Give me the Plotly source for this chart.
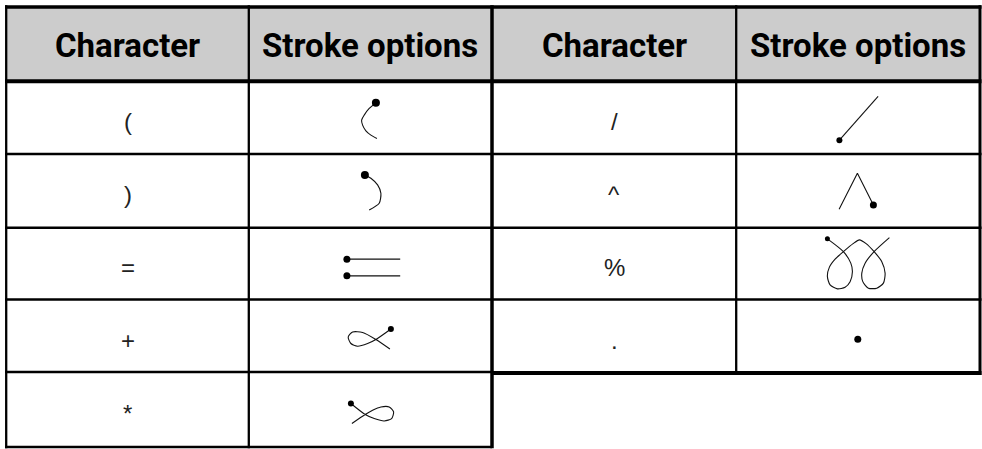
import plotly.graph_objects as go

# ---------------- data ----------------
headers = ["Character", "Stroke options", "Character", "Stroke options"]
characters_left = ["(", ")", "=", "+", "*"]
characters_right = ["/", "^", "%", "."]

# stroke paths (glyph-local offsets from the cell centre); first point carries the dot
stroke_lparen = [(5.5, -14.8), (-1.2, -9.2), (-6.2, -2.5), (-8.8, 2.5), (-7.8, 7.5), (-4.5, 13.2), (0.5, 17.5), (6.5, 20.8)]
stroke_rparen = [(-5.5, -16), (0.5, -12.7), (7.2, -6), (10.5, 2.3), (8.8, 12.3), (-1.2, 19)]
stroke_equal_a = [(-23.5, -4.5), (29.8, -4.5)]
stroke_equal_b = [(-23.5, 12.2), (29.8, 12.2)]
stroke_plus = [(20.5, -7), (5.5, 3.5), (-2.8, 7.5), (-12.8, 10.2), (-19.5, 7.5), (-22.2, 1), (-17.8, -4),
               (-7.8, -3.5), (5.5, 3.5), (19.5, 13)]
stroke_star = [(-19.5, -6.2), (-5.2, 4.8), (3.8, 8.8), (13.8, 11.2), (21.2, 8.8), (23.2, 2.2), (18.8, -2.8),
               (10.5, -2.8), (2.2, 0.5), (-5.2, 4.8), (-18.5, 13.8)]
stroke_slash = [(-18.7, 22.5), (20, -21.2)]
stroke_caret = [(15.3, 14), (-0.7, -17.7), (-19, 18.3)]
stroke_percent = [(-30.7, -24.8), (-14.7, -12), (-7.3, -0.5), (-5.7, 8), (-8, 18), (-13, 23.5), (-20.7, 25.2),
                  (-28, 21.2), (-30.7, 13), (-28.7, 3.5), (-23, -4.5), (-14.7, -12), (-5, -20), (1.3, -23.8),
                  (8, -20), (16, -12), (23.7, -2), (27, 9.5), (25.3, 19.5), (18.7, 24.5), (10.3, 24.5),
                  (4.7, 18), (3.7, 9.5), (7, -0.5), (16, -12), (31.3, -26)]
stroke_period = [(-0.3, 3.2)]

strokes_left = [[stroke_lparen], [stroke_rparen], [stroke_equal_a, stroke_equal_b], [stroke_plus], [stroke_star]]
strokes_right = [[stroke_slash], [stroke_caret], [stroke_percent], [stroke_period]]

# ---------------- layout / style ----------------
W, H = 982, 449
col_edges = [6.2, 248.8, 492, 736.2, 980]
row_edges = [7, 81.3, 154, 227.8, 299.5, 372.5, 447]
dot_sizes_left = [8, 8, 7, 6, 6]
dot_sizes_right = [6, 7, 5, 7]
smooth_left = [True, True, False, True, True]
smooth_right = [False, False, True, False]
header_font = dict(family="Roboto, Liberation Sans, sans-serif", size=33, color="#000000", weight="bold")
body_font = dict(family="Liberation Sans, Arial, sans-serif", size=24, color="#222222")

fig = go.Figure()
shapes = []
annotations = []

# header background
shapes.append(dict(type="rect", x0=col_edges[0], x1=col_edges[-1], y0=row_edges[0], y1=row_edges[1],
                   fillcolor="#cccccc", line=dict(width=0), layer="below"))


def hline(y, x0, x1, w):
    shapes.append(dict(type="line", x0=x0, x1=x1, y0=y, y1=y, line=dict(color="black", width=w)))


def vline(x, y0, y1, w):
    shapes.append(dict(type="line", x0=x, x1=x, y0=y0, y1=y1, line=dict(color="black", width=w)))


left_x0, mid_x, right_x1 = col_edges[0] - 1.2, col_edges[2], col_edges[-1] + 1.5
hline(row_edges[0], left_x0, right_x1, 3.5)
hline(row_edges[1], left_x0, right_x1, 4)
for y in row_edges[2:5]:
    hline(y, left_x0, right_x1, 2.5)
hline(row_edges[5] - 0.5, left_x0, mid_x, 2.5)
hline(row_edges[5] + 0.5, mid_x, right_x1, 4)
hline(row_edges[6], left_x0, mid_x, 2.5)

vline(col_edges[0], row_edges[0] - 1.7, row_edges[6] + 1.2, 2.3)
vline(col_edges[1], row_edges[0] - 1.7, row_edges[6] + 1.2, 2.3)
vline(col_edges[2], row_edges[0] - 1.7, row_edges[6] + 1.2, 3.5)
vline(col_edges[3], row_edges[0] - 1.7, row_edges[5] + 2.5, 2.3)
vline(col_edges[4], row_edges[0] - 1.7, row_edges[5] + 2.5, 3)

# header texts
for i, h in enumerate(headers):
    cx = (col_edges[i] + col_edges[i + 1]) / 2
    cy = (row_edges[0] + row_edges[1]) / 2 + 1
    annotations.append(dict(x=cx, y=cy, text=h, showarrow=False, xanchor="center", yanchor="middle",
                            font=header_font))


def add_block(chars, strokes, dots, smooth, col):
    cx_char = (col_edges[col] + col_edges[col + 1]) / 2
    cx_str = (col_edges[col + 1] + col_edges[col + 2]) / 2
    for r, (ch, st, ds, sm) in enumerate(zip(chars, strokes, dots, smooth)):
        cy = (row_edges[r + 1] + row_edges[r + 2]) / 2
        annotations.append(dict(x=cx_char, y=cy + 4, text=ch, showarrow=False, xanchor="center",
                                yanchor="middle", font=body_font))
        for path in st:
            xs = [cx_str + p[0] for p in path]
            ys = [cy + p[1] for p in path]
            if len(path) > 1:
                line = dict(color="#111111", width=1.1, shape="spline", smoothing=0.7) if sm else \
                    dict(color="#111111", width=1.1)
                fig.add_trace(go.Scatter(x=xs, y=ys, mode="lines", line=line,
                                         hoverinfo="skip", showlegend=False))
            fig.add_trace(go.Scatter(x=xs[:1], y=ys[:1], mode="markers",
                                     marker=dict(color="black", size=ds, line=dict(width=0)),
                                     hoverinfo="skip", showlegend=False))


add_block(characters_left, strokes_left, dot_sizes_left, smooth_left, 0)
add_block(characters_right, strokes_right, dot_sizes_right, smooth_right, 2)

fig.update_layout(
    width=W, height=H, autosize=False,
    margin=dict(l=0, r=0, t=0, b=0, pad=0),
    paper_bgcolor="white", plot_bgcolor="white",
    xaxis=dict(range=[0, W], visible=False, fixedrange=True),
    yaxis=dict(range=[H, 0], visible=False, fixedrange=True),
    shapes=shapes, annotations=annotations, showlegend=False,
)

fig.write_html("out.html", config={"displayModeBar": False, "responsive": False},
               post_script="document.body.style.margin='0px';document.body.style.overflow='hidden';")
